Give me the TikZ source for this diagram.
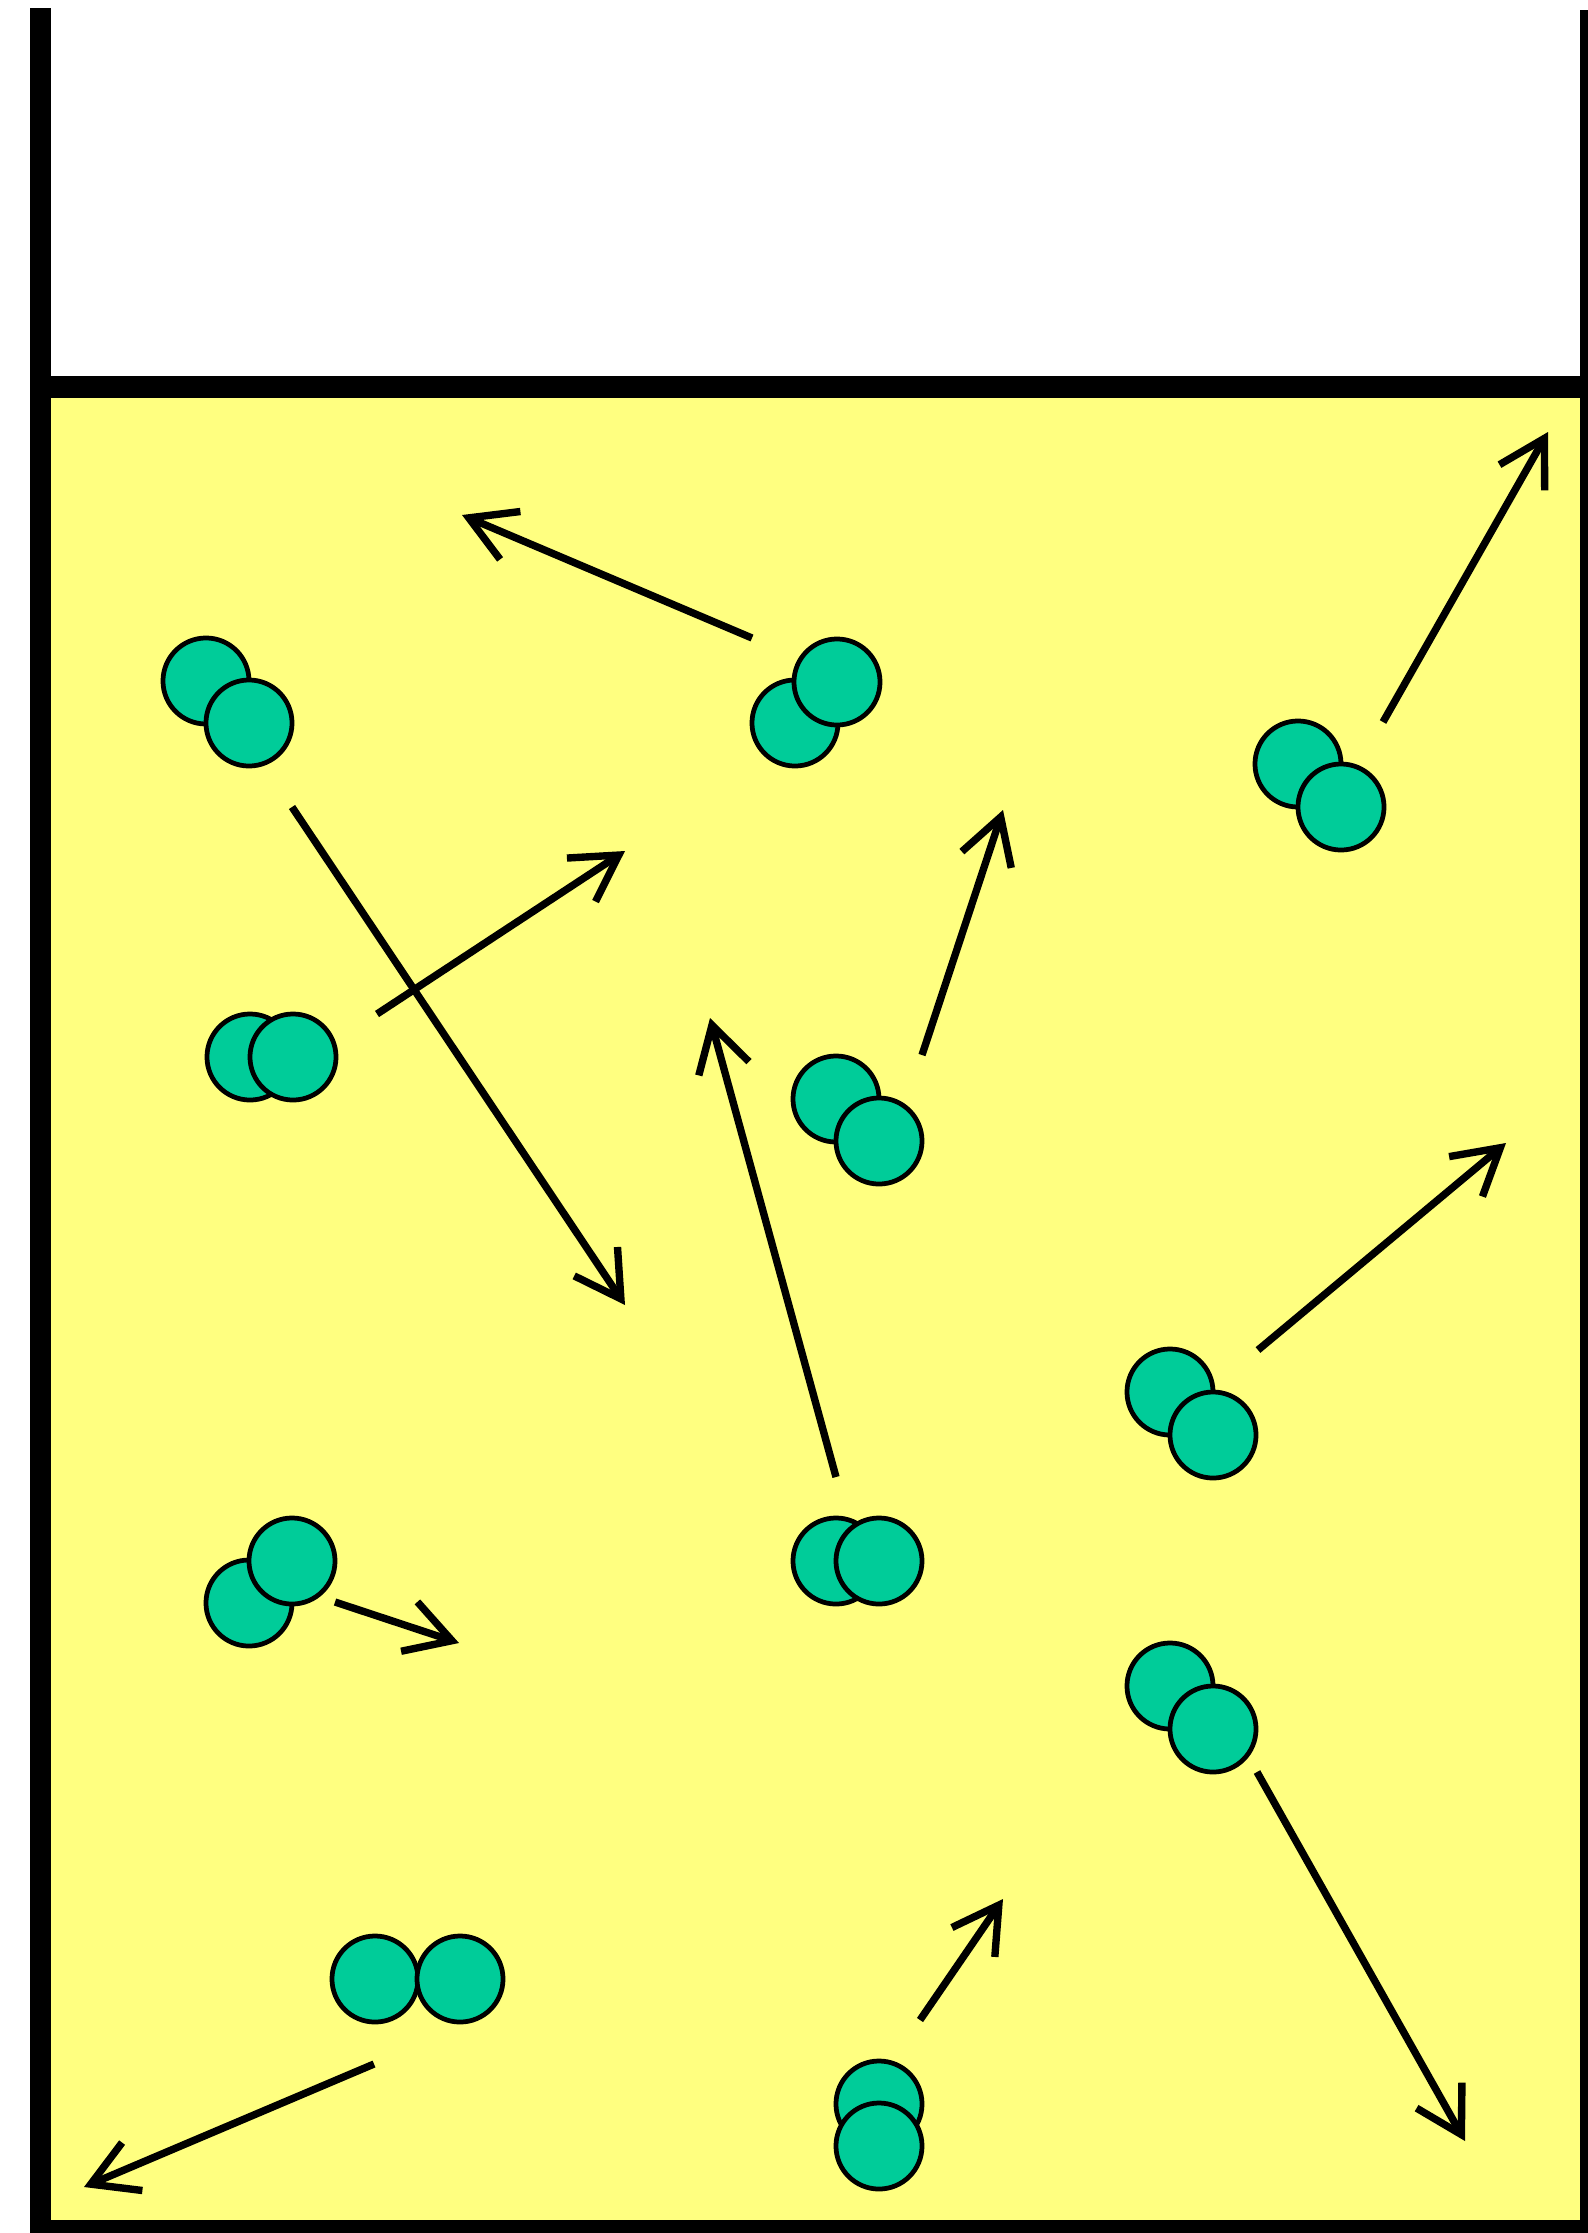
\documentclass[tikz,border=0pt]{standalone}
\usepackage{tikz}
\usetikzlibrary{arrows.meta}
\usepackage{xcolor}
\definecolor{liquid}{RGB}{255,255,128}
\definecolor{gas}{RGB}{0,204,153}

\begin{document}
\begin{tikzpicture}[x=0.01cm, y=-0.01cm,
    atom/.style={draw=black, fill=gas, line width=1.35pt},
    vel/.style={line width=2.1pt, -{Straight Barb[length=0.45cm, width=0.52cm]}}]
  \useasboundingbox (0,0) rectangle (1588,2233);

  % liquid in the beaker
  \fill[liquid] (51,397) rectangle (1580,2220);
  \draw[line width=6pt, line join=miter] (40.5,8) -- (40.5,2230.5) -- (1590.5,2230.5) -- (1590.5,10);
  \draw[line width=6pt] (30,387) -- (1590,387);

  % molecules: back atom first, front atom on top
  \draw[atom] (206,681) circle[radius=0.43cm];
  \draw[atom] (249,723) circle[radius=0.43cm];

  \draw[atom] (795,723) circle[radius=0.43cm];
  \draw[atom] (837,682) circle[radius=0.43cm];

  \draw[atom] (1298,764) circle[radius=0.43cm];
  \draw[atom] (1341,807) circle[radius=0.43cm];

  \draw[atom] (250,1057) circle[radius=0.43cm];
  \draw[atom] (293,1057) circle[radius=0.43cm];

  \draw[atom] (836,1099) circle[radius=0.43cm];
  \draw[atom] (879,1141) circle[radius=0.43cm];

  \draw[atom] (1170,1392) circle[radius=0.43cm];
  \draw[atom] (1213,1435) circle[radius=0.43cm];

  \draw[atom] (249,1603) circle[radius=0.43cm];
  \draw[atom] (292,1561) circle[radius=0.43cm];

  \draw[atom] (836,1561) circle[radius=0.43cm];
  \draw[atom] (879,1561) circle[radius=0.43cm];

  \draw[atom] (1170,1686) circle[radius=0.43cm];
  \draw[atom] (1213,1729) circle[radius=0.43cm];

  \draw[atom] (375,1979) circle[radius=0.43cm];
  \draw[atom] (460,1979) circle[radius=0.43cm];

  \draw[atom] (879,2104) circle[radius=0.43cm];
  \draw[atom] (879,2146) circle[radius=0.43cm];

  % velocity arrows
  \draw[vel] (752,638) -- (462,515);
  \draw[vel] (1383,722) -- (1548,432);
  \draw[vel] (292,807) -- (625,1305);
  \draw[vel] (377,1014) -- (625,851);
  \draw[vel] (922,1055) -- (1003,810);
  \draw[vel] (836,1477) -- (710,1018);
  \draw[vel] (1258,1350) -- (1506,1143);
  \draw[vel] (335,1602) -- (459,1643);
  \draw[vel] (1257,1772) -- (1465,2141);
  \draw[vel] (920,2020) -- (1003,1899);
  \draw[vel] (374,2064) -- (84,2187);

\end{tikzpicture}
\end{document}
